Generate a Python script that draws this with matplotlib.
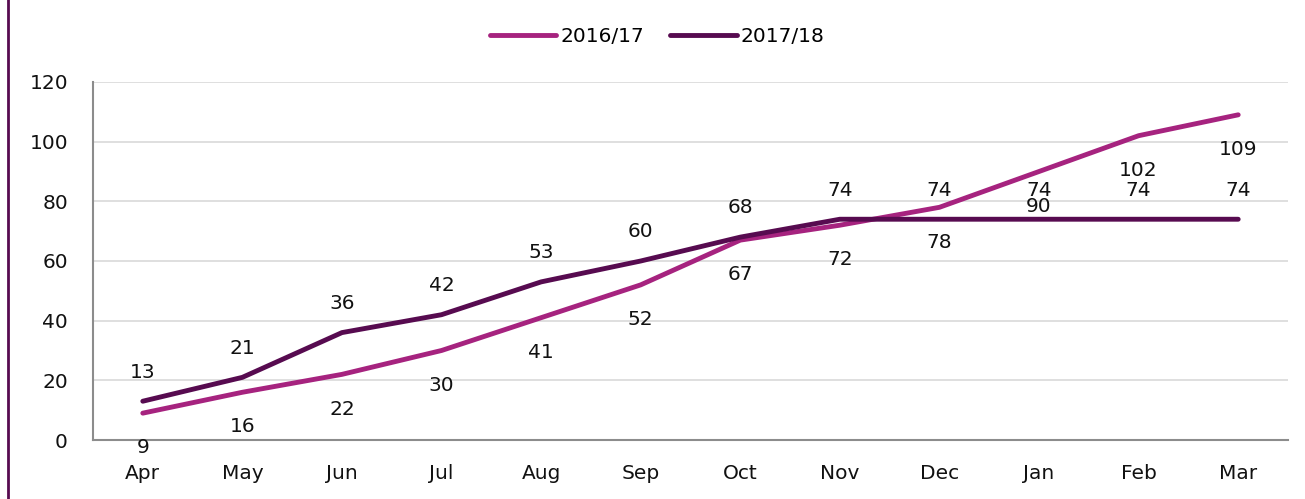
import matplotlib.pyplot as plt
from matplotlib.lines import Line2D

months = ["Apr", "May", "Jun", "Jul", "Aug", "Sep", "Oct", "Nov", "Dec", "Jan", "Feb", "Mar"]
y1617 = [9, 16, 22, 30, 41, 52, 67, 72, 78, 90, 102, 109]
y1718 = [13, 21, 36, 42, 53, 60, 68, 74, 74, 74, 74, 74]

c1617 = "#a6237f"
c1718 = "#570b50"

plt.rcParams['font.family'] = ['DejaVu Sans']

fig = plt.figure(figsize=(13.05, 4.99), dpi=100)
ax = fig.add_axes([93 / 1305, 1 - 440 / 499, 1195 / 1305, 358 / 499])

x = list(range(len(months)))
ax.plot(x, y1617, color=c1617, lw=3.5, solid_capstyle='round', label="2016/17", zorder=3)
ax.plot(x, y1718, color=c1718, lw=3.5, solid_capstyle='round', label="2017/18", zorder=3)

for i, v in enumerate(y1617):
    ax.annotate(str(v), (i, v), xytext=(0, -25), textcoords='offset points',
                ha='center', va='center', fontsize=14.5, color='#111111')
for i, v in enumerate(y1718):
    ax.annotate(str(v), (i, v), xytext=(0, 21), textcoords='offset points',
                ha='center', va='center', fontsize=14.5, color='#111111')

ax.set_xlim(-0.5, 11.5)
ax.set_ylim(0, 120)
ax.set_yticks(range(0, 121, 20))
ax.set_xticks(x)
ax.set_xticklabels(months)
ax.tick_params(axis='both', length=0, labelsize=14.5, colors='#111111')
ax.tick_params(axis='x', pad=17)
ax.tick_params(axis='y', pad=18)
ax.grid(axis='y', color='#d9d9d9', lw=1.2)
ax.set_axisbelow(True)
for s in ['top', 'right']:
    ax.spines[s].set_visible(False)
for s in ['left', 'bottom']:
    ax.spines[s].set_color('#8c8c8c')
    ax.spines[s].set_linewidth(1.5)

ax.legend(loc='lower center', bbox_to_anchor=(0.472, 1.05), ncol=2, frameon=False,
          fontsize=14.5, handlelength=3.3, handletextpad=0.2, columnspacing=1.3)

fig.add_artist(Line2D([8 / 1305, 8 / 1305], [0, 1], color=c1718, lw=2))

fig.savefig("out.png", dpi=100)
